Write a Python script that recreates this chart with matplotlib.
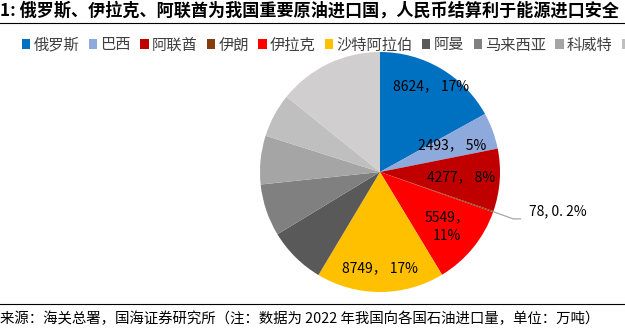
import numpy as np
import matplotlib
matplotlib.use("Agg")
import matplotlib.pyplot as plt
from matplotlib.patches import Patch
from matplotlib.lines import Line2D

plt.rcParams['font.family'] = ['Noto Sans CJK SC', 'DejaVu Sans']

# 2022 crude oil imports by country (10k tonnes)
countries = ['俄罗斯', '巴西', '阿联酋', '伊朗', '伊拉克', '沙特阿拉伯', '阿曼', '马来西亚', '科威特', '安哥拉', '其他']
volumes = [8624, 2493, 4277, 78, 5549, 8749, 3937, 3568, 3328, 3000, 7225]
pct_text = ['17%', '5%', '8%', '0.2%', '11%', '17%', None, None, None, None, None]
colors = ['#0070C0', '#8EA9DB', '#C00000', '#843C0C', '#FF0000', '#FFC000',
          '#595959', '#808080', '#A5A5A5', '#BFBFBF', '#D0CECE']

W, H = 625, 333
fig = plt.figure(figsize=(W / 100, H / 100), dpi=100)

# title + rule
fig.text(0.0, 1 - 11 / H, '1: 俄罗斯、伊拉克、阿联酋为我国重要原油进口国，人民币结算利于能源进口安全',
         fontsize=12.3, fontweight='bold', va='center', ha='left')
fig.add_artist(Line2D([0, 1], [1 - 23 / H, 1 - 23 / H], color='black', lw=0.8))

# footer
fig.add_artist(Line2D([0, 1], [1 - 304 / H, 1 - 304 / H], color='black', lw=0.8))
fig.text(0.0, 1 - 319 / H, '来源：海关总署，国海证券研究所（注：数据为 2022 年我国向各国石油进口量，单位：万吨）',
         fontsize=10.4, va='center', ha='left')

# pie
cx, cy, r = 380, 172, 120
ax = fig.add_axes([(cx - r) / W, (H - cy - r) / H, 2 * r / W, 2 * r / H])
wedges, _ = ax.pie(volumes, colors=colors, startangle=90, counterclock=False,
                   radius=1, wedgeprops=dict(linewidth=0))
ax.set_xlim(-1, 1)
ax.set_ylim(-1, 1)
ax.set_aspect('equal')
ax.axis('off')

label_r = [0.83, 0.64, 0.68, None, 0.72, 0.8]
for i, w in enumerate(wedges):
    if pct_text[i] is None:
        continue
    mid = np.deg2rad((w.theta1 + w.theta2) / 2)
    x, y = np.cos(mid), np.sin(mid)
    if countries[i] == '伊朗':
        ex, ey = 1.11, y - 0.06
        ax.plot([x, ex, ex + 0.06], [y, ey, ey], color='#A6A6A6', lw=0.9, clip_on=False)
        ax.text(1.24, y + 0.005, f'{volumes[i]}, 0. 2%', fontsize=10, ha='left', va='center')
        continue
    txt = f'{volumes[i]}， {pct_text[i]}'
    if countries[i] == '伊拉克':
        txt = f'{volumes[i]}，\n{pct_text[i]}'
    ax.text(label_r[i] * x, label_r[i] * y, txt, fontsize=10, ha='center', va='center',
            linespacing=1.5)

# legend (runs off the right edge, as in the original)
handles = [Patch(facecolor=c, edgecolor='none') for c in colors]
fig.legend(handles, countries, loc='center left', bbox_to_anchor=(22 / W, 1 - 45 / H),
           ncol=len(countries), frameon=False, fontsize=11, handlelength=0.55,
           handleheight=0.55, handletextpad=0.2, columnspacing=0.62,
           borderaxespad=0, borderpad=0, labelcolor='#404040')

fig.savefig('out.png', dpi=100)
